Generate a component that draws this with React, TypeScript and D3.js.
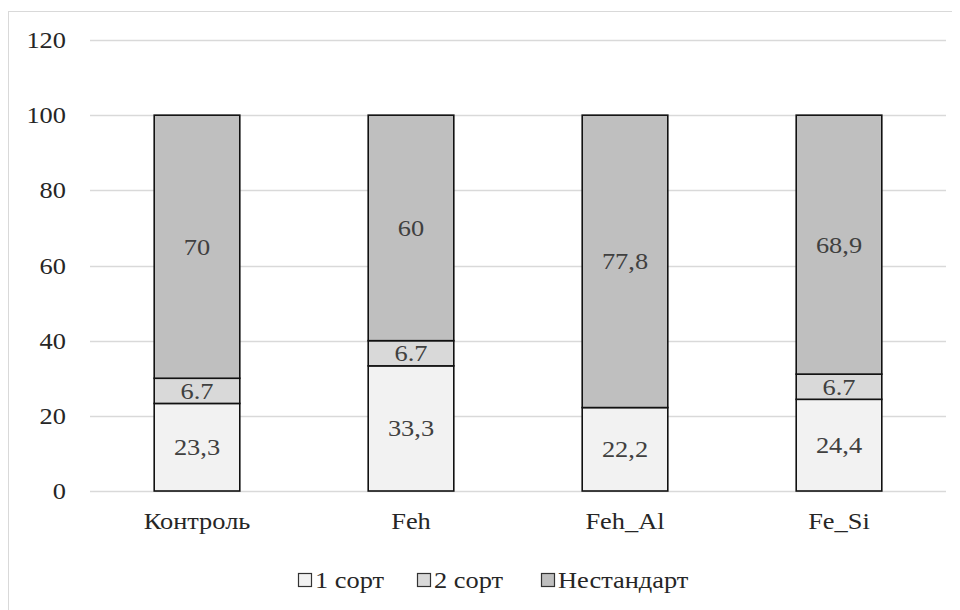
import React from "react";
import * as d3 from "d3";

const categories = ["Контроль", "Feh", "Feh_Al", "Fe_Si"];
const seriesNames = ["1 сорт", "2 сорт", "Нестандарт"];
const grade1 = [23.3, 33.3, 22.2, 24.4];
const grade2 = [6.7, 6.7, 0, 6.7];
const nonStandard = [70, 60, 77.8, 68.9];
const yTicks = [0, 20, 40, 60, 80, 100, 120];

const seriesValues = [grade1, grade2, nonStandard];
const seriesColors = ["#f2f2f2", "#d9d9d9", "#bfbfbf"];
// decimal separator used in each series' value labels
const seriesSeparator = [",", ".", ","];

const W = 952;
const H = 602;
const FS = 24;
const SX = 1.1;
// baseline offset that centres the glyphs vertically on the anchor point
const BASE = 8;

type LabelProps = {
  x: number;
  y: number;
  anchor?: "start" | "middle" | "end";
  fill?: string;
  children: React.ReactNode;
};

// Serif label, slightly widened horizontally
function Label({ x, y, anchor = "middle", fill = "#262626", children }: LabelProps) {
  return (
    <text
      transform={`translate(${x},${y + BASE}) scale(${SX},1)`}
      textAnchor={anchor}
      fontSize={FS}
      fontFamily="Liberation Serif"
      fill={fill}
    >
      {children}
    </text>
  );
}

export default function App() {
  const x = d3
    .scaleBand<string>()
    .domain(categories)
    .range([90, 946])
    .paddingInner(0.6)
    .paddingOuter(0.3);
  const y = d3.scaleLinear().domain([0, 120]).range([491, 40]);

  const rows = categories.map((c, i) => {
    const r: any = { category: c };
    seriesNames.forEach((s, k) => (r[s] = seriesValues[k][i]));
    return r;
  });
  const stacked = d3.stack<any>().keys(seriesNames)(rows);

  const fmt = (v: number, sep: string) => {
    const s = Number.isInteger(v) ? String(v) : v.toFixed(1);
    return s.replace(".", sep);
  };

  const legendX = [298, 417, 541];

  return (
    <svg width={W} height={H} style={{ display: "block" }}>
      {/* page coordinates: the svg sits inside the body's 8px margin */}
      <g transform="translate(-8,-8)">
        <rect x={8.5} y={11.5} width={W + 20} height={H + 20} fill="#fff" stroke="#d9d9d9" />
        {yTicks.map((t) => (
          <g key={t}>
            <line x1={90} x2={946} y1={Math.round(y(t)) + 0.5} y2={Math.round(y(t)) + 0.5} stroke="#d9d9d9" strokeWidth={1.3} />
            <Label x={66} y={y(t)} anchor="end">
              {t}
            </Label>
          </g>
        ))}
        {stacked.map((layer, k) => (
          <g key={layer.key}>
            {layer.map((d, i) => {
              const v = d[1] - d[0];
              if (v <= 0) return null;
              const bx = x(categories[i])!;
              const y0 = y(d[0]);
              const y1 = y(d[1]);
              return (
                <g key={i}>
                  <rect
                    x={bx}
                    y={y1}
                    width={x.bandwidth()}
                    height={y0 - y1}
                    fill={seriesColors[k]}
                    stroke="#111"
                    strokeWidth={1.6}
                  />
                  <Label x={bx + x.bandwidth() / 2} y={(y0 + y1) / 2} fill="#404040">
                    {fmt(v, seriesSeparator[k])}
                  </Label>
                </g>
              );
            })}
          </g>
        ))}
        {categories.map((c) => (
          <Label key={c} x={x(c)! + x.bandwidth() / 2} y={521}>
            {c}
          </Label>
        ))}
        {seriesNames.map((s, k) => (
          <g key={s}>
            <rect x={legendX[k] + 0.5} y={573.5} width={13} height={13} fill={seriesColors[k]} stroke="#333" strokeWidth={1.2} />
            <Label x={legendX[k] + 17} y={580} anchor="start">
              {s}
            </Label>
          </g>
        ))}
      </g>
    </svg>
  );
}
